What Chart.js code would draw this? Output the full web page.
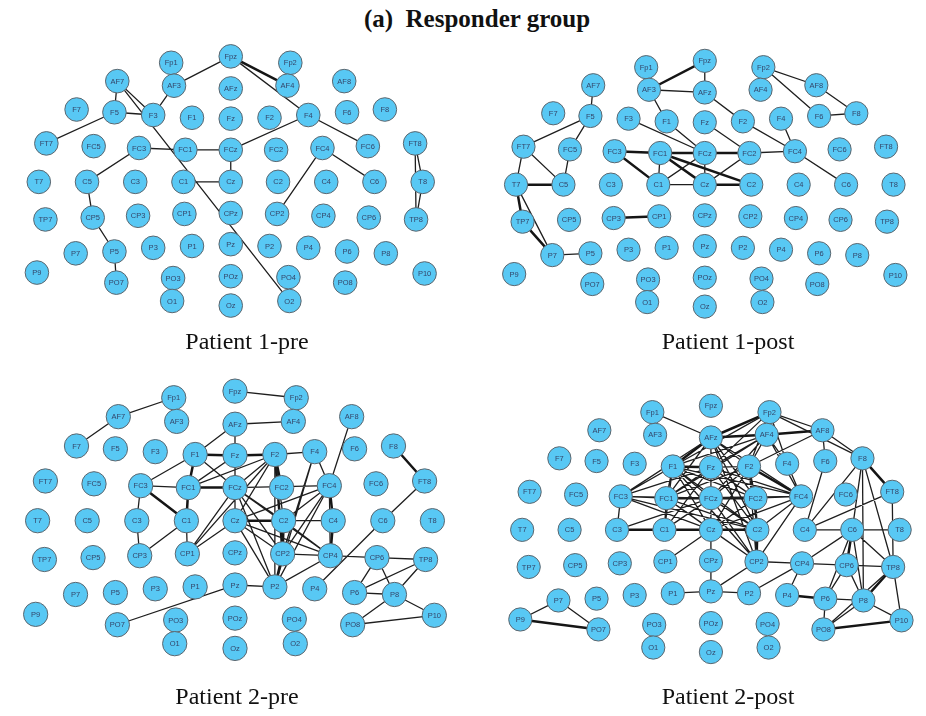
<!DOCTYPE html>
<html>
<head>
<meta charset="utf-8">
<script src="https://cdn.jsdelivr.net/npm/chart.js@4.4.1/dist/chart.umd.min.js"></script>
<style>
  body { margin: 0; background: #fff; }
  #wrap { position: relative; width: 926px; height: 716px; overflow: hidden; }
  canvas { position: absolute; }
  .cap { position: absolute; width: 300px; text-align: center; font-family: "Liberation Serif", "Times New Roman", serif; font-size: 24px; line-height: 24px; color: #111; }
  #title { position: absolute; left: 277px; top: 6px; width: 400px; text-align: center; font-family: "Liberation Serif", "Times New Roman", serif; font-weight: bold; font-size: 25px; line-height: 25px; color: #111; }
</style>
</head>
<body>
<div id="wrap">
  <div id="title">(a)&nbsp; Responder group</div>
  <canvas id="pre1"></canvas>
  <canvas id="post1"></canvas>
  <canvas id="pre2"></canvas>
  <canvas id="post2"></canvas>
  <div class="cap" style="left:97px;top:329px">Patient 1-pre</div>
  <div class="cap" style="left:578px;top:329px">Patient 1-post</div>
  <div class="cap" style="left:87px;top:684px">Patient 2-pre</div>
  <div class="cap" style="left:578px;top:684px">Patient 2-post</div>
</div>
<script>
// electrode montage (units: px at scale 1, Cz at the origin, y grows downward)
const channels = [
  'Fp1','Fpz','Fp2',
  'AF7','AF3','AFz','AF4','AF8',
  'F7','F5','F3','F1','Fz','F2','F4','F6','F8',
  'FT7','FC5','FC3','FC1','FCz','FC2','FC4','FC6','FT8',
  'T7','C5','C3','C1','Cz','C2','C4','C6','T8',
  'TP7','CP5','CP3','CP1','CPz','CP2','CP4','CP6','TP8',
  'P9','P7','P5','P3','P1','Pz','P2','P4','P6','P8','P10',
  'PO7','PO3','POz','PO4','PO8',
  'O1','Oz','O2'
];
const chanX = [
  -63, 0, 63,
  -120, -60, 0, 60, 120,
  -163, -123, -82, -41, 0, 41, 82, 123, 163,
  -195, -145, -97, -48, 0, 48, 97, 145, 195,
  -203, -152, -101, -50, 0, 50, 101, 152, 203,
  -196, -146, -98, -49, 0, 49, 98, 146, 196,
  -205, -164, -123, -82, -41, 0, 41, 82, 123, 164, 205,
  -121, -61, 0, 61, 121,
  -62, 0, 62
];
const chanY = [
  -130, -137, -130,
  -110, -105, -102, -105, -110,
  -79, -76, -73, -70, -69, -70, -73, -76, -79,
  -42, -39, -37, -35, -35, -35, -37, -39, -42,
  0, 0, 0, 0, 0, 0, 0, 0, 0,
  41, 39, 37, 35, 34, 35, 37, 39, 41,
  99, 78, 76, 72, 70, 68, 70, 72, 76, 78, 100,
  110, 105, 103, 104, 110,
  130, 135, 130
];

// Patient 1, before treatment
const pre1Links = [
  ['Fpz','AF3'], ['AF3','F3'], ['AF7','F5'], ['F5','F3'], ['AF7','F3'], ['AF7','O2'],
  ['F5','FT7'], ['FC3','FC1'], ['FC1','FCz'], ['FCz','Cz'], ['C1','Cz'], ['FC3','C5'],
  ['C5','CP5'], ['CP5','P5'], ['P5','PO7'], ['Fpz','F4'], ['F4','FC6'], ['FCz','F4'],
  ['FC4','CP2'], ['FC4','C6'], ['FT8','T8'], ['T8','TP8'], ['FT8','TP8']
];
const pre1Strong = [['Fpz','AF4']];

// Patient 1, after treatment
const post1Links = [
  ['AF7','F5'], ['F5','FT7'], ['F5','FC5'], ['FC5','C5'], ['FT7','C5'], ['FT7','T7'],
  ['T7','P7'], ['P7','P5'], ['PO3','O1'], ['AF3','AFz'], ['Fpz','AFz'], ['AF3','F1'],
  ['F1','FCz'], ['F3','FCz'], ['AFz','F2'], ['Fz','FC2'], ['F2','FC4'], ['FC2','FC4'],
  ['FC1','C1'], ['C1','FCz'], ['C1','Cz'], ['FCz','Cz'], ['Cz','FC2'], ['F4','FC4'],
  ['FC4','C6'], ['Fp2','AF8'], ['Fp2','F6'], ['AF8','F8'], ['F6','F8']
];
const post1Strong = [
  ['T7','C5'], ['T7','TP7'], ['TP7','P7'], ['CP3','CP1'], ['AF3','Fpz'], ['FC3','FC1'],
  ['FC1','FCz'], ['FCz','FC2'], ['FC3','C1'], ['FC1','Cz'], ['FC1','C2'], ['Cz','C2']
];

// Patient 2, before treatment
const pre2Links = [
  ['Fp1','AF7'], ['AF7','F7'], ['Fpz','Fp2'], ['AFz','AF4'], ['F1','FC3'], ['FC3','FC1'],
  ['FC3','C3'], ['C3','CP3'], ['CP3','C1'], ['C1','CP1'], ['F1','AFz'], ['F1','FCz'],
  ['FC1','Fz'], ['FC1','F2'], ['AFz','Fz'], ['Fz','FCz'], ['FCz','Cz'], ['F2','F4'],
  ['F2','FCz'], ['F2','Cz'], ['F2','CP1'], ['F2','C2'], ['F2','P2'], ['F4','FC4'],
  ['F4','CP2'], ['F4','P2'], ['AF8','FC4'], ['FC4','CP2'], ['FC4','P2'], ['FC4','Cz'],
  ['FC4','C2'], ['FC4','FCz'], ['FCz','C2'], ['FCz','CP2'], ['FCz','CP4'], ['FCz','P2'],
  ['FCz','CP1'], ['C2','C4'], ['Cz','CP4'], ['Cz','P2'], ['Cz','CP2'], ['CP1','Cz'],
  ['CP2','CP4'], ['C2','CP4'], ['CP4','P2'], ['CP4','CP6'], ['Pz','P2'], ['PO7','Pz'],
  ['P4','C6'], ['C6','FT8'], ['CP6','TP8'], ['CP6','P6'], ['CP6','P8'], ['TP8','P6'],
  ['TP8','P8'], ['P6','P8'], ['P8','P10'], ['P8','PO8'], ['PO8','P10'], ['FC4','CP4']
];
const pre2Strong = [
  ['FC3','C1'], ['C1','FC1'], ['F1','FC1'], ['F1','Fz'], ['Fz','F2'], ['F2','FC2'],
  ['F2','CP2'], ['FC4','C4'], ['C4','CP4'], ['Cz','C2'], ['C2','CP2'], ['CP2','P2'],
  ['FT8','F8'], ['FC1','FCz']
];

// Patient 2, after treatment
const post2Links = [
  ['Fp1','AFz'], ['P9','P7'], ['P7','PO7'], ['PO3','O1'], ['FC3','C3'], ['C3','FCz'],
  ['P1','Pz'], ['Pz','CPz'], ['CPz','Cz'], ['Cz','CP1'], ['Pz','P2'], ['Pz','CP2'],
  ['P2','CP4'], ['FC3','F1'], ['FC3','FC1'], ['FC3','Fz'], ['FC3','FCz'], ['FC3','Cz'],
  ['FC3','C2'], ['FC3','AFz'],
  ['Fp2','AF4'], ['Fp2','F1'], ['Fp2','Fz'], ['Fp2','F2'], ['Fp2','F4'], ['Fp2','AF8'], ['Fp2','F8'],
  ['AFz','Fz'], ['AFz','F2'], ['AFz','FC1'], ['AFz','FCz'], ['AFz','FC2'], ['AFz','C2'],
  ['AFz','FC4'], ['AFz','CP2'],
  ['AF4','F1'], ['AF4','Fz'], ['AF4','F2'], ['AF4','F4'], ['AF4','FC4'], ['AF4','FC1'], ['AF4','FCz'],
  ['AF8','F2'], ['AF8','F8'], ['AF8','F6'],
  ['F1','FC1'], ['F1','FCz'], ['F1','FC2'], ['F1','Cz'], ['F1','C2'], ['F1','FC4'], ['F1','CP2'], ['F1','C1'],
  ['Fz','F2'], ['Fz','FC1'], ['Fz','FCz'], ['Fz','FC2'], ['Fz','FC4'], ['Fz','C2'], ['Fz','Cz'], ['Fz','C1'],
  ['F2','FC1'], ['F2','FCz'], ['F2','C2'], ['F2','Cz'], ['F2','CP2'], ['F2','FC2'],
  ['F4','FC4'],
  ['FC1','FC2'], ['FC1','C2'], ['FC1','Cz'], ['FC1','CP2'], ['FC1','FC4'], ['FC1','C1'],
  ['FCz','FC4'], ['FCz','C2'], ['FCz','CP2'], ['FCz','Cz'], ['FCz','C1'],
  ['FC2','FC4'], ['FC2','C2'], ['FC2','CP2'], ['FC2','Cz'],
  ['FC4','C2'], ['FC4','CP2'], ['FC4','Cz'],
  ['Cz','CP2'], ['CP2','CP4'],
  ['F6','C4'], ['FT8','C4'], ['F8','C4'], ['C4','C6'], ['C6','T8'], ['F8','C6'], ['F8','TP8'],
  ['F8','P8'], ['C6','CP4'], ['C6','P6'], ['C6','P8'], ['C6','TP8'], ['CP4','CP6'],
  ['CP4','P4'], ['CP6','TP8'], ['CP6','P6'], ['CP6','P8'], ['P6','P8'], ['P6','PO8'],
  ['P8','PO8'], ['P8','P10'], ['TP8','P10'], ['PO8','TP8'], ['FT8','TP8']
];
const post2Strong = [
  ['P9','PO7'], ['C3','C1'], ['C1','Cz'], ['Fp2','AFz'], ['AFz','AF4'], ['AFz','F1'],
  ['AF4','AF8'], ['F1','Fz'], ['F2','FC4'], ['FC1','FCz'], ['FCz','FC2'], ['Cz','C2'],
  ['C2','CP2'], ['F8','FT8'], ['C6','CP6'], ['P4','P6'], ['P8','TP8'], ['PO8','P10']
];

// where each network sits on the page: canvas box, head centre (Cz) and scale
const panels = [
  { id: 'pre1',  left: 0,   top: 28,  width: 470, height: 305, cx: 230.5, cy: 182,   s: 1.0,   links: pre1Links,  strong: pre1Strong },
  { id: 'post1', left: 476, top: 28,  width: 450, height: 305, cx: 705,   cy: 185,   s: 0.985, links: post1Links, strong: post1Strong },
  { id: 'pre2',  left: 0,   top: 362, width: 470, height: 322, cx: 235,   cy: 520.5, s: 1.03,  links: pre2Links,  strong: pre2Strong },
  { id: 'post2', left: 476, top: 372, width: 450, height: 312, cx: 711.5, cy: 530,   s: 0.985, links: post2Links, strong: post2Strong }
];

function linkData(links) {
  const pts = [];
  links.forEach(([a, b]) => {
    const i = channels.indexOf(a);
    const j = channels.indexOf(b);
    pts.push({ x: chanX[i], y: chanY[i] }, { x: chanX[j], y: chanY[j] }, { x: null, y: null });
  });
  return pts;
}

// electrode names written inside the nodes
const nodeLabels = {
  id: 'nodeLabels',
  afterDatasetsDraw(chart) {
    const ctx = chart.ctx;
    const meta = chart.getDatasetMeta(0);
    ctx.save();
    ctx.font = '7.5px "Liberation Sans", Arial, sans-serif';
    ctx.fillStyle = '#34466a';
    ctx.textAlign = 'center';
    ctx.textBaseline = 'middle';
    meta.data.forEach((pt, i) => {
      ctx.fillText(channels[i], pt.x, pt.y + 0.5);
    });
    ctx.restore();
  }
};

panels.forEach((p) => {
  const canvas = document.getElementById(p.id);
  canvas.width = p.width;
  canvas.height = p.height;
  canvas.style.left = p.left + 'px';
  canvas.style.top = p.top + 'px';

  new Chart(canvas, {
    type: 'scatter',
    data: {
      datasets: [
        {
          label: 'electrodes',
          data: channels.map((c, i) => ({ x: chanX[i], y: chanY[i] })),
          pointRadius: 11.8 * p.s,
          pointBackgroundColor: '#58c8f4',
          pointBorderColor: '#5c666e',
          pointBorderWidth: 1,
          clip: false,
          order: 0
        },
        {
          type: 'line',
          label: 'links',
          data: linkData(p.links),
          borderColor: '#1e1e1e',
          borderWidth: 1.3,
          pointRadius: 0,
          spanGaps: false,
          clip: false,
          order: 1
        },
        {
          type: 'line',
          label: 'strong links',
          data: linkData(p.strong),
          borderColor: '#151515',
          borderWidth: 2.5,
          pointRadius: 0,
          spanGaps: false,
          clip: false,
          order: 2
        }
      ]
    },
    options: {
      responsive: false,
      animation: false,
      events: [],
      layout: { padding: 0 },
      plugins: { legend: { display: false }, tooltip: { enabled: false } },
      scales: {
        x: { type: 'linear', display: false, min: (0 - (p.cx - p.left)) / p.s, max: (p.width - (p.cx - p.left)) / p.s },
        y: { type: 'linear', display: false, reverse: true, min: (0 - (p.cy - p.top)) / p.s, max: (p.height - (p.cy - p.top)) / p.s }
      }
    },
    plugins: [nodeLabels]
  });
});
</script>
</body>
</html>
